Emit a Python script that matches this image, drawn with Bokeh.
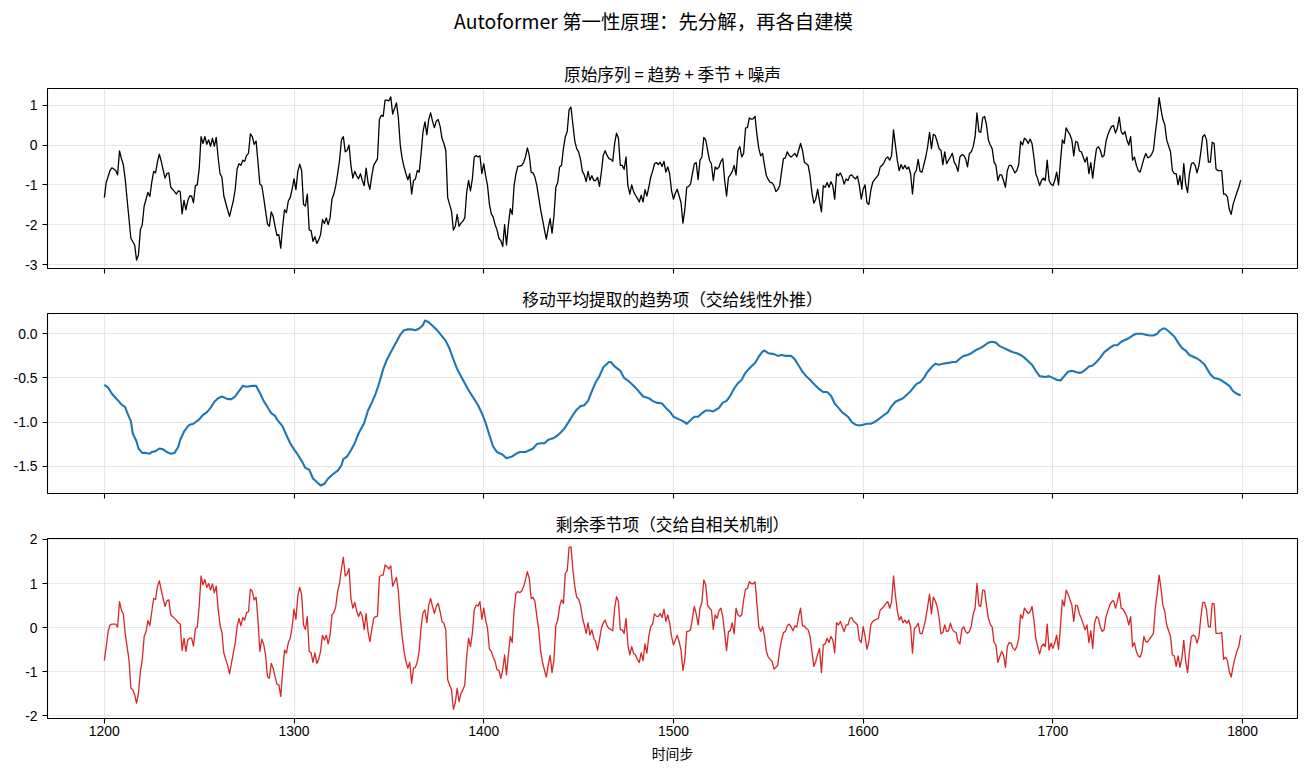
from bokeh.plotting import figure
from bokeh.layouts import column
from bokeh.models import Range1d, FixedTicker, Title
from bokeh.core.properties import value
from bokeh.embed import file_html
from bokeh.resources import INLINE

# ---------------- data ----------------
raw_steps = [
    1200, 1201, 1203, 1204, 1205, 1206, 1207, 1208, 1209, 1210,
    1211, 1212, 1214, 1216, 1217, 1218, 1219, 1220, 1221, 1222,
    1223, 1224, 1225, 1226, 1227, 1228, 1229, 1230, 1232, 1233,
    1234, 1235, 1237, 1238, 1239, 1240, 1241, 1242, 1243, 1244,
    1245, 1246, 1247, 1248, 1249, 1250, 1251, 1252, 1253, 1254,
    1255, 1256, 1257, 1258, 1259, 1260, 1261, 1262, 1263, 1265,
    1266, 1268, 1269, 1270, 1271, 1272, 1273, 1274, 1275, 1276,
    1277, 1278, 1279, 1280, 1281, 1282, 1283, 1284, 1286, 1287,
    1288, 1289, 1290, 1291, 1292, 1293, 1294, 1295, 1296, 1297,
    1298, 1299, 1300, 1301, 1302, 1303, 1304, 1305, 1306, 1307,
    1308, 1309, 1310, 1311, 1312, 1313, 1314, 1315, 1316, 1317,
    1318, 1319, 1320, 1321, 1322, 1323, 1324, 1325, 1326, 1327,
    1328, 1329, 1330, 1331, 1332, 1333, 1334, 1335, 1336, 1337,
    1338, 1339, 1340, 1341, 1342, 1343, 1344, 1345, 1346, 1347,
    1348, 1349, 1350, 1351, 1352,
] + list(range(1354, 1800))

raw_values = [
    -1.32, -0.94, -0.64, -0.57, -0.60, -0.64, -0.75, -0.15, -0.34, -0.49,
    -0.85, -1.36, -2.34, -2.51, -2.89, -2.76, -2.13, -2.00, -1.53, -1.36,
    -1.19, -1.29, -0.94, -0.66, -0.70, -0.43, -0.23, -0.41, -0.83, -0.72,
    -0.70, -1.06, -1.17, -1.23, -1.15, -1.17, -1.73, -1.39, -1.63, -1.40,
    -1.28, -1.28, -1.45, -1.02, -1.00, -0.60, 0.21, 0.04, 0.21, 0.02,
    0.13, -0.03, 0.17, -0.03, 0.19, -0.32, -0.72, -0.81, -1.28, -1.63,
    -1.79, -1.40, -1.11, -0.60, -0.47, -0.51, -0.38, -0.41, -0.26, -0.21,
    0.28, 0.21, 0.02, 0.10, -0.43, -0.98, -1.02, -1.32, -1.98, -2.04,
    -1.68, -1.79, -2.04, -2.27, -2.25, -2.59, -2.04, -1.62, -1.70, -1.40,
    -1.32, -1.11, -0.85, -1.12, -0.66, -0.48, -0.64, -1.49, -1.53, -1.23,
    -2.13, -2.15, -2.42, -2.30, -2.47, -2.38, -2.25, -1.87, -1.97, -1.83,
    -2.00, -1.83, -1.36, -1.23, -1.02, -0.72, -0.38, 0.13, 0.21, -0.17,
    -0.13, 0.00, -0.51, -0.83, -0.66, -0.77, -0.85, -0.72, -0.89, -1.02,
    -0.58, -0.94, -1.11, -0.77, -0.51, -0.43, -0.34, 0.64, 0.75, 0.72,
    1.13, 1.13, 1.11, 1.21, 0.78,
    # 1354 onwards
    1.06, 0.68, 0.00, -0.34, -0.55, -0.72, -0.87, -0.72, -1.23, -0.89,
    -0.85, -0.64, -0.68, -0.21, 0.34, 0.58, 0.26, 0.64, 0.81, 0.60,
    0.44, 0.60, 0.64, 0.47, 0.17, 0.04, -0.13, -1.32, -1.49, -1.66,
    -2.14, -2.04, -1.74, -2.04, -1.96, -1.91, -1.83, -1.19, -0.89, -1.15,
    -0.85, -0.30, -0.26, -0.30, -0.27, -0.72, -0.47, -0.77, -1.02, -1.49,
    -1.73, -1.81, -2.00, -2.13, -2.34, -2.40, -2.55, -2.00, -2.51, -2.00,
    -1.60, -1.74, -1.02, -0.72, -0.53, -0.53, -0.51, -0.44, -0.30, -0.07,
    -0.26, -0.68, -0.70, -0.81, -1.02, -1.32, -1.62, -1.87, -2.13, -2.36,
    -2.08, -1.85, -2.21, -1.79, -1.06, -0.94, -0.55, -0.51, -0.09, 0.21,
    0.34, 0.89, 0.95, 0.51, 0.10, -0.09, -0.17, -0.36, -0.66, -0.75,
    -0.92, -0.66, -0.88, -0.77, -0.89, -0.89, -0.81, -1.04, -0.68, -0.26,
    -0.14, -0.26, -0.34, -0.36, -0.41, 0.04, 0.30, 0.17, -0.51, -0.51,
    -0.61, -0.30, -1.02, -1.23, -1.00, -1.17, -1.26, -1.34, -1.43, -1.26,
    -1.43, -1.12, -1.28, -1.06, -0.81, -0.66, -0.47, -0.44, -0.49, -0.43,
    -0.54, -0.41, -0.68, -0.55, -0.72, -1.15, -1.36, -1.21, -1.11, -1.28,
    -1.45, -1.96,
    # 1506 onwards
    -1.62, -1.06, -1.04, -0.98, -0.72, -0.47, -0.44, -0.87, -0.38, -0.30,
    0.19, 0.13, -0.13, -0.38, -0.47, -0.89, -0.55, -0.60, -0.55, -0.41,
    -0.34, -0.89, -1.28, -0.81, -0.75, -0.66, -0.51, -0.75, -0.13, -0.04,
    -0.30, -0.21, 0.43, 0.44, 0.68, 0.65, 0.66, 0.72, 0.26, -0.09,
    -0.27, -0.21, -0.51, -0.77, -0.87, -0.94, -0.95, -1.02, -1.17, -1.12,
    -1.02, -0.66, -0.34, -0.32, -0.17, -0.26, -0.30, -0.26, -0.21, -0.30,
    -0.13, 0.04, -0.13, -0.43, -0.47, -0.51, -0.77, -1.19, -1.46, -1.36,
    -1.11, -1.40, -1.68, -1.02, -1.06, -0.94, -1.06, -0.92, -1.02, -1.36,
    -0.72, -0.77, -0.70, -0.81, -0.98, -0.85, -0.89, -0.77, -0.75, -0.81,
    -0.85, -0.78, -1.02, -1.36, -1.11, -1.00, -1.45, -1.49, -1.15, -0.94,
    -0.87, -0.81, -0.75, -0.55, -0.51, -0.44, -0.34, -0.30, -0.38, -0.26,
    0.38, 0.00, -0.38, -0.64, -0.49, -0.60, -0.51, -0.60, -0.55, -0.72,
    -1.23, -0.72, -0.64, -0.36, -0.66, -0.68, -0.49, -0.30, -0.04, 0.32,
    -0.09, 0.27, 0.24, 0.09, -0.09, -0.13, -0.49, -0.17, -0.47, -0.38,
    -0.30, -0.21, -0.43, -0.51, -0.66, -0.30, -0.24, -0.26, -0.34, -0.55,
    -0.21, -0.17,
    # 1658 onwards
    -0.04, 0.21, 0.81, 0.34, 0.32, 0.68, 0.72, 0.51, 0.13, 0.00,
    -0.09, -0.43, -0.51, -0.89, -0.75, -0.75, -0.89, -1.06, -0.64, -0.51,
    -0.51, -0.60, -0.70, -0.64, -0.49, 0.09, 0.00, 0.17, 0.13, 0.04,
    0.15, 0.04, -0.30, -0.72, -0.85, -1.02, -0.89, -0.83, -0.89, -0.38,
    -0.89, -0.98, -1.02, -0.89, -0.68, -1.00, -0.41, 0.13, 0.04, 0.43,
    0.34, 0.26, 0.13, -0.27, 0.09, 0.07, -0.15, -0.17, -0.30, -0.43,
    -0.30, -0.72, -0.44, -0.83, -0.43, -0.09, -0.04, -0.13, -0.30, -0.26,
    0.09, 0.26, 0.38, 0.47, 0.49, 0.30, 0.43, 0.70, 0.34, 0.27,
    0.34, 0.13, 0.00, 0.21, -0.38, -0.30, -0.51, -0.64, -0.68, -0.51,
    -0.34, -0.21, -0.32, -0.30, -0.24, -0.13, 0.30, 0.68, 1.19, 0.89,
    0.64, 0.51, 0.13, -0.02, -0.17, -0.64, -0.72, -0.72, -1.00, -0.77,
    -1.11, -0.47, -0.98, -1.19, -0.72, -0.47, -0.44, -0.51, -0.70, -0.51,
    -0.17, 0.21, 0.26, 0.13, -0.43, -0.43, 0.07, 0.04, -0.60, -0.64,
    -0.64, -0.64, -1.23, -1.23, -1.30, -1.62, -1.74, -1.49, -1.34, -1.19,
    -1.06, -0.88,
]

trend_steps = [
    1200, 1202, 1204, 1207, 1209, 1211, 1212, 1214, 1215, 1217,
    1218, 1220, 1222, 1224, 1225, 1227, 1229, 1231, 1233, 1235,
    1237, 1239, 1240, 1242, 1244, 1245, 1247, 1250, 1252, 1254,
    1256, 1258, 1260, 1262, 1265, 1267, 1269, 1271, 1273, 1275,
    1278, 1280, 1282, 1284, 1286, 1288, 1290, 1291, 1294, 1296,
    1298, 1300, 1302, 1304, 1306, 1308, 1310, 1312, 1314, 1316,
    1318, 1320, 1323, 1325, 1326, 1328, 1330, 1332, 1334, 1337,
    1339, 1341, 1343, 1345, 1347, 1349, 1351, 1353, 1356, 1358,
    1360, 1362, 1364, 1366, 1368, 1369, 1371, 1373, 1375, 1377,
    1380, 1382, 1384, 1386, 1388, 1390, 1392, 1395, 1397, 1399,
    1401, 1403, 1405, 1407, 1410, 1412, 1415, 1417, 1419, 1422,
    1424, 1426, 1428, 1430, 1432, 1434, 1437, 1439, 1441, 1443,
    1445, 1447, 1449, 1451, 1453, 1455, 1457, 1459, 1461, 1463,
    1466, 1467, 1469, 1472, 1474, 1476, 1478, 1480, 1482, 1484,
    1487, 1489, 1491, 1494, 1496, 1498, 1500, 1503,
    1505, 1507, 1509, 1511, 1513, 1515, 1517, 1519, 1521, 1524,
    1526, 1528, 1530, 1532, 1534, 1536, 1538, 1541, 1543, 1545,
    1547, 1548, 1550, 1553, 1555, 1557, 1559, 1562, 1564, 1566,
    1568, 1570, 1572, 1575, 1577, 1579, 1581, 1583, 1585, 1587,
    1589, 1592, 1594, 1596, 1598, 1600, 1602, 1604, 1606, 1608,
    1611, 1613, 1615, 1617, 1619, 1621, 1623, 1625, 1628, 1630,
    1632, 1634, 1636, 1638, 1640, 1642, 1645, 1647, 1649, 1651,
    1653, 1655, 1657, 1659, 1662, 1664, 1666, 1668, 1670, 1672,
    1674, 1676, 1679, 1681, 1683, 1685, 1687, 1689, 1691, 1693,
    1696, 1698, 1700, 1702, 1704, 1706, 1708, 1710, 1713, 1715,
    1717, 1719, 1721, 1723, 1725, 1727, 1730, 1732, 1734, 1736,
    1738, 1740, 1742, 1744, 1747, 1749, 1751, 1753, 1755, 1756,
    1758, 1759, 1761, 1764, 1766, 1768, 1770, 1772, 1774, 1776,
    1778, 1780, 1783, 1785, 1787, 1789, 1791, 1793, 1795, 1797,
    1799,
]

trend_values = [
    -0.58, -0.61, -0.68, -0.75, -0.80, -0.83, -0.89, -0.99, -1.13, -1.22,
    -1.30, -1.35, -1.35, -1.36, -1.34, -1.33, -1.30, -1.31, -1.34, -1.36,
    -1.35, -1.28, -1.20, -1.11, -1.05, -1.03, -1.02, -0.97, -0.92, -0.89,
    -0.84, -0.77, -0.73, -0.71, -0.74, -0.74, -0.71, -0.65, -0.59, -0.60,
    -0.59, -0.59, -0.67, -0.76, -0.83, -0.90, -0.93, -0.97, -1.05, -1.15,
    -1.24, -1.31, -1.37, -1.44, -1.52, -1.54, -1.64, -1.68, -1.72, -1.70,
    -1.64, -1.60, -1.55, -1.49, -1.42, -1.39, -1.32, -1.24, -1.13, -1.01,
    -0.87, -0.78, -0.68, -0.55, -0.40, -0.29, -0.21, -0.13, -0.01, 0.04,
    0.05, 0.05, 0.04, 0.06, 0.10, 0.15, 0.13, 0.09, 0.05, 0.00,
    -0.08, -0.17, -0.29, -0.40, -0.48, -0.56, -0.64, -0.74, -0.81, -0.90,
    -1.01, -1.15, -1.28, -1.34, -1.37, -1.41, -1.39, -1.36, -1.34, -1.34,
    -1.32, -1.30, -1.25, -1.24, -1.24, -1.20, -1.18, -1.15, -1.11, -1.06,
    -0.99, -0.92, -0.86, -0.82, -0.81, -0.76, -0.65, -0.55, -0.48, -0.38,
    -0.32, -0.32, -0.37, -0.42, -0.50, -0.53, -0.57, -0.61, -0.66, -0.71,
    -0.73, -0.76, -0.78, -0.79, -0.84, -0.88, -0.94, -0.97,
    -0.99, -1.02, -0.98, -0.94, -0.94, -0.90, -0.87, -0.87, -0.88, -0.84,
    -0.78, -0.76, -0.70, -0.62, -0.56, -0.52, -0.44, -0.37, -0.33, -0.26,
    -0.20, -0.19, -0.22, -0.23, -0.25, -0.24, -0.25, -0.25, -0.29, -0.36,
    -0.43, -0.48, -0.52, -0.59, -0.63, -0.66, -0.66, -0.70, -0.79, -0.84,
    -0.89, -0.94, -1.00, -1.03, -1.04, -1.03, -1.02, -1.02, -1.00, -0.97,
    -0.92, -0.89, -0.82, -0.77, -0.75, -0.73, -0.69, -0.65, -0.57, -0.55,
    -0.50, -0.43, -0.38, -0.34, -0.35, -0.34, -0.33, -0.32, -0.32, -0.28,
    -0.25, -0.24, -0.22, -0.19, -0.16, -0.13, -0.10, -0.09, -0.10, -0.14,
    -0.16, -0.18, -0.21, -0.22, -0.24, -0.27, -0.31, -0.35, -0.42, -0.48,
    -0.49, -0.48, -0.50, -0.52, -0.53, -0.48, -0.43, -0.42, -0.44, -0.44,
    -0.41, -0.37, -0.36, -0.32, -0.27, -0.21, -0.16, -0.13, -0.13, -0.09,
    -0.07, -0.05, -0.02, 0.00, 0.00, -0.01, -0.02, -0.02, 0.00, 0.03,
    0.06, 0.06, 0.03, -0.03, -0.10, -0.16, -0.19, -0.24, -0.26, -0.28,
    -0.31, -0.35, -0.46, -0.50, -0.51, -0.53, -0.56, -0.59, -0.65, -0.68,
    -0.70,
]

season_steps = [
    1200, 1201, 1202, 1203, 1204, 1205, 1206, 1207, 1208, 1209,
    1210, 1211, 1212, 1213, 1214, 1215, 1216, 1217, 1218, 1219,
    1220, 1221, 1222, 1223, 1224, 1225, 1226, 1227, 1228, 1229,
    1230, 1231, 1232, 1233, 1234, 1235,
    1237, 1238, 1239, 1240, 1241, 1242, 1243, 1244, 1245, 1246,
    1247, 1248, 1249, 1250, 1251, 1252, 1253, 1254, 1255, 1256,
    1257, 1258, 1259, 1260, 1261, 1262, 1263,
] + list(range(1265, 1353)) + list(range(1354, 1800))

season_values = [
    -0.75, -0.43, -0.09, 0.06, 0.08, 0.08, 0.08, 0.01, 0.59, 0.40,
    0.31, -0.13, -0.43, -0.73, -1.37, -1.41, -1.52, -1.71, -1.49, -1.00,
    -0.73, -0.20, -0.09, 0.16, 0.04, 0.36, 0.66, 0.64, 0.93, 1.06,
    0.85, 0.66, 0.48, 0.61, 0.63, 0.29,
    0.21, 0.17, 0.11, 0.08, -0.52, -0.24, -0.54, -0.28, -0.24, -0.24,
    -0.42, -0.02, 0.01, 0.48, 1.17, 0.97, 1.09, 0.91, 1.00, 0.85,
    0.99, 0.79, 0.94, 0.42, 0.06, -0.11, -0.58,
    # 1265 onwards
    -0.85, -1.05, -0.81, -0.58, -0.35, 0.02, 0.21, 0.04, 0.23, 0.17,
    0.34, 0.36, 0.87, 0.82, 0.63, 0.69, 0.17, -0.54, -0.26, -0.38,
    -0.62, -1.11, -1.15, -0.81, -0.92, -1.11, -1.28, -1.30, -1.56, -1.00,
    -0.51, -0.58, -0.34, -0.24, 0.02, 0.42, 0.19, 0.72, 0.91, 0.76,
    0.06, -0.04, 0.25, -0.54, -0.57, -0.79, -0.57, -0.81, -0.72, -0.54,
    -0.17, -0.28, -0.17, -0.37, -0.17, 0.29, 0.34, 0.48, 0.82, 1.00,
    1.34, 1.59, 1.17, 1.22, 1.34, 0.66, 0.44, 0.57, 0.38, 0.25,
    0.36, 0.25, -0.04, 0.32, -0.09, -0.32, -0.04, 0.21, 0.25, 0.26,
    1.15, 1.19, 1.19, 1.42, 1.38, 1.33, 1.40, 0.94,
    # 1354 onwards
    1.14, 0.82, 0.21, -0.20, -0.54, -0.77, -0.92, -0.79, -1.26, -0.92,
    -0.90, -0.77, -0.52, 0.02, 0.34, 0.40, 0.11, 0.51, 0.66, 0.48,
    0.32, 0.48, 0.55, 0.36, 0.14, 0.10, -0.05, -1.18, -1.30, -1.41,
    -1.85, -1.71, -1.37, -1.68, -1.49, -1.41, -1.30, -0.66, -0.24, -0.43,
    -0.13, 0.40, 0.51, 0.49, 0.59, 0.19, 0.44, 0.17, -0.02, -0.49,
    -0.54, -0.67, -0.77, -0.96, -0.97, -1.15, -0.96, -0.62, -1.07, -0.60,
    -0.20, -0.34, 0.40, 0.78, 0.82, 0.79, 0.83, 0.93, 1.08, 1.27,
    1.12, 0.66, 0.69, 0.59, 0.25, -0.05, -0.54, -0.79, -0.96, -1.12,
    -0.85, -0.63, -1.02, -0.73, 0.04, 0.17, 0.48, 0.63, 0.55, 1.23,
    1.29, 1.82, 1.83, 1.31, 0.93, 0.69, 0.65, 0.51, 0.23, 0.06,
    -0.13, 0.11, -0.17, -0.05, -0.24, -0.32, -0.51, -0.28, -0.02, 0.11,
    0.17, 0.04, -0.02, -0.04, -0.07, 0.44, 0.70, 0.59, -0.05, -0.05,
    -0.13, 0.21, -0.39, -0.62, -0.43, -0.58, -0.62, -0.72, -0.79, -0.57,
    -0.75, -0.37, -0.58, -0.20, 0.02, 0.08, 0.31, 0.26, 0.25, 0.32,
    0.23, 0.42, 0.14, 0.29, 0.10, -0.20, -0.39, -0.28, -0.17, -0.32,
    -0.51, -0.97,
    # 1506 onwards
    -0.72, -0.09, -0.08, -0.05, 0.21, 0.48, 0.31, 0.06, 0.44, 0.57,
    1.08, 0.97, 0.51, 0.44, 0.40, -0.04, 0.29, 0.21, 0.38, 0.44,
    0.25, -0.13, -0.52, -0.09, -0.07, 0.11, -0.14, 0.44, 0.29, 0.25,
    0.29, 0.63, 0.87, 0.89, 1.04, 1.00, 0.99, 1.04, 0.55, 0.02,
    -0.09, 0.02, -0.20, -0.54, -0.67, -0.72, -0.77, -0.94, -0.90, -0.85,
    -0.51, -0.28, -0.11, -0.09, 0.04, 0.08, 0.02, -0.07, 0.04, 0.01,
    0.25, 0.44, 0.04, 0.04, -0.02, -0.05, -0.20, -0.54, -0.88, -0.77,
    -0.60, -0.47, -1.02, -0.39, -0.37, -0.24, -0.34, -0.20, -0.28, -0.57,
    0.11, 0.06, 0.14, 0.02, -0.09, 0.06, 0.06, 0.21, 0.23, 0.14,
    0.11, 0.06, -0.28, -0.34, 0.02, -0.19, -0.49, -0.32, 0.06, 0.14,
    0.17, 0.19, 0.21, 0.40, 0.44, 0.48, 0.55, 0.59, 0.44, 0.59,
    1.17, 0.74, 0.38, 0.17, 0.25, 0.11, 0.17, 0.10, 0.17, 0.02,
    -0.58, -0.02, 0.02, 0.10, -0.13, -0.14, 0.02, 0.21, 0.48, 0.76,
    0.31, 0.69, 0.61, 0.48, 0.23, -0.14, -0.11, 0.06, -0.09, -0.07,
    0.10, -0.04, -0.09, -0.11, -0.32, -0.37, -0.04, 0.02, -0.09, -0.13,
    -0.09, 0.04,
    # 1658 onwards
    0.31, 0.44, 1.00, 0.51, 0.48, 0.85, 0.84, 0.51, 0.21, 0.08,
    0.01, -0.34, -0.39, -0.79, -0.66, -0.54, -0.62, -0.90, -0.43, -0.34,
    -0.35, -0.47, -0.51, -0.43, -0.24, 0.29, 0.21, 0.44, 0.38, 0.32,
    0.36, 0.48, 0.17, -0.24, -0.43, -0.60, -0.43, -0.37, -0.43, 0.08,
    -0.51, -0.35, -0.47, -0.35, -0.17, -0.49, 0.01, 0.63, 0.49, 0.85,
    0.76, 0.63, 0.51, 0.14, 0.51, 0.49, 0.31, 0.21, 0.08, -0.05,
    0.06, -0.34, -0.07, -0.47, 0.11, 0.25, 0.21, 0.02, -0.09, -0.05,
    0.25, 0.38, 0.51, 0.59, 0.61, 0.44, 0.59, 0.79, 0.44, 0.42,
    0.34, 0.25, 0.06, 0.25, -0.43, -0.34, -0.54, -0.64, -0.67, -0.54,
    -0.20, -0.32, -0.32, -0.26, -0.20, -0.13, 0.44, 0.78, 1.19, 0.89,
    0.51, 0.36, 0.06, -0.07, -0.20, -0.62, -0.64, -0.88, -0.64, -0.90,
    -0.69, -0.29, -0.75, -1.02, -0.54, -0.20, -0.17, -0.20, -0.35, -0.20,
    0.23, 0.57, 0.57, 0.40, 0.02, 0.01, 0.55, 0.54, -0.13, -0.13,
    -0.13, -0.11, -0.72, -0.67, -0.75, -1.00, -1.12, -0.88, -0.69, -0.54,
    -0.43, -0.17,
]

x_ticks = [1200, 1300, 1400, 1500, 1600, 1700, 1800]
x_tick_labels = ["1200", "1300", "1400", "1500", "1600", "1700", "1800"]
raw_y_ticks = [-3, -2, -1, 0, 1]
raw_y_labels = ["-3", "-2", "-1", "0", "1"]
trend_y_ticks = [-1.5, -1.0, -0.5, 0.0]
trend_y_labels = ["-1.5", "-1.0", "-0.5", "0.0"]
season_y_ticks = [-2, -1, 0, 1, 2]
season_y_labels = ["-2", "-1", "0", "1", "2"]

suptitle = "Autoformer 第一性原理：先分解，再各自建模"
panel_titles = ["原始序列 = 趋势 + 季节 + 噪声",
                "移动平均提取的趋势项（交给线性外推）",
                "剩余季节项（交给自相关机制）"]
x_label = "时间步"

for a, b, name in ((raw_steps, raw_values, "raw"),
                   (trend_steps, trend_values, "trend"),
                   (season_steps, season_values, "season")):
    if len(a) != len(b):
        raise ValueError(f"{name}: {len(a)} steps vs {len(b)} values")

# ---------------- styling ----------------
CJK = "Noto Sans CJK SC"
NUM = "Liberation Sans"
WIDTH = 1306
LEFT, RIGHT = 47, 9
X_RANGE = (1170.05, 1828.95)
HEAD_H = 50


def make_panel(height, top, bottom, y_range, y_ticks, y_labels, title, show_x):
    p = figure(width=WIDTH, height=height, title=None,
               x_range=Range1d(*X_RANGE), y_range=Range1d(*y_range),
               output_backend="svg", toolbar_location=None,
               min_border_left=LEFT, min_border_right=RIGHT,
               min_border_top=top, min_border_bottom=bottom)
    p.background_fill_color = "white"
    p.border_fill_color = "white"
    p.outline_line_color = "black"
    p.outline_line_width = 1.1

    p.xaxis.ticker = FixedTicker(ticks=x_ticks)
    p.yaxis.ticker = FixedTicker(ticks=y_ticks)
    p.yaxis.major_label_overrides = dict(zip(y_ticks, y_labels))
    for ax in (p.xaxis[0], p.yaxis[0]):
        ax.axis_line_color = None
        ax.major_tick_in = 0
        ax.major_tick_out = 5
        ax.major_tick_line_width = 1.1
        ax.major_tick_line_color = "black"
        ax.minor_tick_line_color = None
        ax.major_label_text_font = NUM
        ax.major_label_text_font_size = "13.9px"
        ax.major_label_text_color = "black"
        ax.major_label_standoff = 5
    if show_x:
        p.xaxis.major_label_overrides = dict(zip(x_ticks, x_tick_labels))
        p.xaxis.major_label_standoff = 2
        p.xaxis.axis_label = x_label
        p.xaxis.axis_label_text_font = CJK
        p.xaxis.axis_label_text_font_size = "13.9px"
        p.xaxis.axis_label_text_font_style = "normal"
        p.xaxis.axis_label_text_color = "black"
        p.xaxis.axis_label_standoff = 4
    else:
        # shared x: tick marks only
        p.xaxis.major_label_text_color = None
        p.xaxis.major_label_text_font_size = "0px"
        p.xaxis.major_label_standoff = 0

    for g in (p.xgrid[0], p.ygrid[0]):
        g.grid_line_color = "#b0b0b0"
        g.grid_line_alpha = 0.3
        g.grid_line_width = 1.1

    p.add_layout(Title(text=title, align="center", text_font=CJK,
                       text_font_size="16.7px", text_font_style="normal",
                       text_color="black", standoff=6), "above")
    return p


# figure-wide heading strip; its x range is in canvas pixels
head = figure(width=WIDTH, height=HEAD_H, title=None,
              x_range=Range1d(LEFT, WIDTH - RIGHT), y_range=Range1d(0, HEAD_H),
              x_axis_location=None, y_axis_location=None,
              output_backend="svg", toolbar_location=None,
              min_border_left=LEFT, min_border_right=RIGHT,
              min_border_top=0, min_border_bottom=0)
head.outline_line_color = None
head.grid.grid_line_color = None
head.background_fill_color = "white"
head.border_fill_color = "white"
head.text(x=[WIDTH / 2], y=[HEAD_H - 20], text=[suptitle],
          text_align="center", text_baseline="middle",
          text_font=value(CJK), text_font_size=value("19.4px"),
          text_color="black")

p1 = make_panel(230, 38, 12, (-3.10, 1.42), raw_y_ticks, raw_y_labels,
                panel_titles[0], False)
p1.line(raw_steps, raw_values, line_color="black", line_width=1.3,
        line_join="round")

p2 = make_panel(225, 33, 12, (-1.81, 0.23), trend_y_ticks, trend_y_labels,
                panel_titles[1], False)
p2.line(trend_steps, trend_values, line_color="#1f77b4", line_width=2.1,
        line_join="round")

p3 = make_panel(270, 33, 57, (-2.06, 2.02), season_y_ticks, season_y_labels,
                panel_titles[2], True)
p3.line(season_steps, season_values, line_color="#d62728", line_width=1.3,
        line_join="round")

layout = column(head, p1, p2, p3, spacing=0)

with open("out.html", "w") as f:
    f.write(file_html(layout, INLINE))
